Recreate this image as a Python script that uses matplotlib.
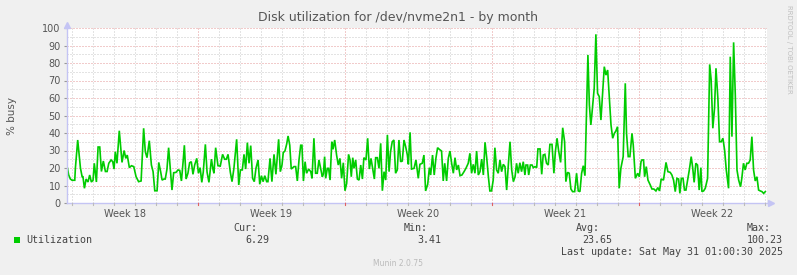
import matplotlib
matplotlib.use('Agg')
import matplotlib.pyplot as plt

# time in days relative to Monday start of Week 19, utilization in %
t_days = [
    -6.22, -6.16, -6.08, -6.00, -5.87, -5.84, -5.73, -5.60, -5.52, -5.48, -5.41, -5.33, -5.24, -5.16,
    -5.08, -5.00, -4.94, -4.84, -4.76, -4.68, -4.60, -4.51, -4.41, -4.33, -4.25, -4.14, -4.06, -4.00,
    -3.94, -3.86, -3.75, -3.62, -3.52, -3.44, -3.37, -3.27, -3.17, -3.06, -2.95, -2.83, -2.71, -2.59,
    -2.51, -2.43, -2.32, -2.22, -2.14, -2.06, -1.95, -1.87, -1.78, -1.71, -1.62, -1.56, -1.48, -1.40,
    -1.32, -1.24, -1.16, -1.05,
    -0.95, -0.87, -0.79, -0.71, -0.65, -0.57, -0.48, -0.40, -0.32, -0.24, -0.16, -0.06, 0.02, 0.10,
    0.18, 0.25, 0.35, 0.43, 0.52, 0.64, 0.71, 0.76, 0.84, 0.95, 1.06, 1.17, 1.27, 1.35, 1.43, 1.54,
    1.62, 1.71, 1.84, 1.94, 2.02, 2.11, 2.19, 2.27, 2.35, 2.43, 2.51, 2.60, 2.68, 2.76, 2.86, 2.94,
    3.02, 3.10, 3.18, 3.27, 3.33, 3.43, 3.52, 3.62, 3.71, 3.84, 3.92, 4.00, 4.06, 4.14, 4.22, 4.29,
    4.37, 4.44,
    4.57, 4.65, 4.73, 4.81, 4.89, 4.95, 5.02, 5.10, 5.17, 5.27, 5.37, 5.43, 5.52, 5.60, 5.68, 5.76,
    5.84, 5.92, 5.97, 6.03, 6.08, 6.16, 6.22, 6.29, 6.37, 6.43, 6.51, 6.60, 6.68, 6.76, 6.84, 6.92,
    7.00, 7.08, 7.17, 7.24, 7.30, 7.37, 7.43, 7.51, 7.59, 7.67, 7.75, 7.83, 7.90, 8.00, 8.08, 8.16,
    8.24, 8.32, 8.40, 8.46, 8.54, 8.62, 8.70, 8.78, 8.86, 8.94, 9.02, 9.10, 9.17, 9.25, 9.33, 9.41,
    9.49, 9.57, 9.65, 9.73, 9.81, 9.89, 9.97, 10.02,
    10.10, 10.17, 10.29, 10.38, 10.49, 10.57, 10.68, 10.76, 10.84, 10.94, 11.02, 11.08, 11.17, 11.25,
    11.33, 11.41, 11.49, 11.60, 11.68, 11.75, 11.84, 11.92, 12.00, 12.08, 12.16, 12.24, 12.32, 12.40,
    12.48, 12.57, 12.67, 12.76, 12.87, 12.95, 13.03, 13.11, 13.19, 13.27, 13.35, 13.43, 13.51, 13.59,
    13.67, 13.75, 13.83, 13.90, 13.98, 14.06, 14.14, 14.22, 14.30, 14.38, 14.46, 14.54, 14.62, 14.70,
    14.78, 14.86, 14.94, 15.02, 15.10, 15.17, 15.25, 15.33, 15.41, 15.49, 15.57,
    15.62, 15.70, 15.75, 15.83, 15.91, 15.97, 16.05, 16.13, 16.19, 16.29, 16.37, 16.44, 16.52, 16.60,
    16.68, 16.76, 16.86, 16.95, 17.02, 17.10, 17.17, 17.27, 17.37, 17.46, 17.52, 17.60, 17.68, 17.76,
    17.84, 17.94, 18.03, 18.11, 18.19, 18.27, 18.35, 18.43, 18.51, 18.57, 18.64, 18.71, 18.76, 18.87,
    18.95, 19.03, 19.11, 19.19, 19.27, 19.35, 19.43, 19.51, 19.59, 19.67, 19.75, 19.83, 19.90, 19.98,
    20.06, 20.14, 20.25, 20.35, 20.41, 20.49, 20.57, 20.67, 20.73, 20.83, 20.94, 21.02, 21.10,
    21.14, 21.22, 21.27, 21.35, 21.43, 21.54, 21.62, 21.71, 21.81, 21.90, 21.98, 22.06, 22.17, 22.29,
    22.38, 22.49, 22.57, 22.65, 22.73, 22.81, 22.89, 22.95, 23.02, 23.10, 23.17, 23.24, 23.32, 23.40,
    23.49, 23.56, 23.63, 23.71, 23.79, 23.87, 23.95, 24.00, 24.08, 24.16, 24.27, 24.37, 24.44, 24.52,
    24.60, 24.67, 24.76, 24.84, 24.92, 25.00, 25.08, 25.16, 25.27, 25.35, 25.43, 25.51, 25.59, 25.67,
    25.75, 25.84, 25.90, 25.98, 26.06, 26.14, 26.22, 26.30, 26.38, 26.46, 26.54, 26.62, 26.70, 26.78,
    26.86, 26.94, 27.02,
]
util = [
    20, 16, 13.7, 13, 13, 20, 36, 20, 15, 15, 8.4, 13.7, 12, 16,
    12, 13, 22.7, 12, 32, 32, 18, 24, 18, 18, 22.7, 24.6, 23.6, 19.4,
    29.3, 22.7, 41.3, 23.2, 30, 25.5, 27.4, 20.2, 21.3, 20.8, 15, 12.2, 12.6, 42.7,
    29.3, 25.9, 35.6, 21.7, 17.9, 7, 7, 23.2, 17.9, 13.1, 13.7, 13.7, 19.2, 31.6,
    19.8, 7.4, 17.3, 17.5,
    18.9, 18.6, 12.6, 23.6, 33, 13.7, 17, 23, 23.6, 16.4, 21.7, 25.5, 17, 20.2,
    11.8, 17.7, 33.5, 17.7, 11.8, 25.1, 19.4, 17, 31.6, 21.3, 21.1, 27.8, 25, 25, 27.8, 17.5,
    12.2, 19.8, 36.4, 10.3, 18.9, 18.9, 27.8, 19.4, 34.5, 22.7, 32.8, 14.1, 12.2, 19.8, 24.6, 10.7,
    15.6, 12.2, 15.6, 12.2, 12.2, 25.5, 12.2, 27.8, 16.4, 36.4, 17.9, 21.7, 28.8, 29.7, 33.5, 38.3,
    33, 19.4,
    20.8, 20.8, 12.6, 24.6, 33, 33, 12.6, 23.6, 17, 19.4, 17.9, 14.1, 37, 17, 17, 24.6,
    19.8, 15, 16.4, 26.5, 14.1, 19.8, 19.8, 13.1, 35, 30.7, 36, 27.4, 21.7, 25.5, 14.1, 23,
    7, 11.2, 27.8, 24.6, 15, 25.9, 19.8, 24.6, 13.7, 13.1, 21.7, 13.7, 25.9, 24.6, 37, 19.4,
    25.5, 19.4, 13.7, 25.9, 25.9, 19.8, 34.1, 7, 17.9, 13.1, 38.9, 17.9, 29.3, 35, 36, 17,
    18.9, 36, 23.6, 24, 36, 32.2, 27.4, 22.1,
    40.4, 19.4, 19.8, 24.6, 14.1, 22.1, 22.7, 27.4, 6.9, 10.7, 20.2, 16, 27.4, 16,
    25.5, 31.6, 30.7, 29.7, 12.6, 22.7, 12.6, 25.5, 29.7, 22.7, 17, 25.9, 18.9, 21.7,
    15.6, 16, 17.9, 19.8, 22.7, 28.4, 17, 22.1, 17, 29.7, 16, 17.9, 25.1, 16,
    34.7, 25.9, 15, 6.9, 6.9, 13.1, 31.6, 18.9, 17, 24.6, 17.9, 22.1, 20.8, 7.4,
    21.7, 35, 18.9, 12.2, 15, 22.7, 17, 23, 17.9, 23.6, 16,
    21.7, 21.7, 16, 21.7, 21.7, 20.2, 20.8, 20.2, 30.9, 30.9, 16.4, 27.4, 27.8, 22.7,
    21.7, 33.5, 33.5, 17, 29.3, 37, 30.3, 23.2, 43, 35, 12.2, 17.5, 17, 8,
    6.5, 6.5, 17, 6.9, 6.5, 17, 21.3, 15.6, 56, 84.6, 56, 44.6, 50.7, 65.5,
    96.4, 62.7, 60.8, 47.4, 62.7, 77.9, 73.1, 76, 59.8, 44.6, 37, 39.8, 41.1, 43.6,
    8.4, 19.8, 26.5, 68.4, 39.8, 26.5, 26.5, 39.8, 33.1, 14.1, 17, 15, 23.6,
    24.6, 24.6, 15, 20.8, 13.1, 10.3, 8, 8, 6.9, 8.8, 6.9, 13.7, 13.1, 23.2,
    17.9, 17.5, 16, 13.1, 6.5, 14.1, 13.7, 5.5, 14.1, 14.1, 7.4, 7.4, 13.1, 18.9,
    26.5, 20.2, 11.8, 22.7, 21.7, 7.4, 20.2, 6.5, 6.9, 8.4, 14.1, 79.2, 70.3, 42.7,
    54.1, 77, 59.8, 35, 35, 37, 30.3, 18.9, 8.4, 83.6, 37.9, 91.8, 61.7, 18.9,
    13.1, 9.3, 14.1, 22.7, 18.9, 22.7, 22.7, 24.6, 37.9, 18.9, 12.6, 15, 7.4, 6.9,
    6.5, 5.5, 6.5,
]

week_labels = ['Week 18', 'Week 19', 'Week 20', 'Week 21', 'Week 22']
week_label_days = [-3.5, 3.5, 10.5, 17.5, 24.5]
y_ticks = [0, 10, 20, 30, 40, 50, 60, 70, 80, 90, 100]

stat_names = ['Cur:', 'Min:', 'Avg:', 'Max:']
stat_values = ['6.29', '3.41', '23.65', '100.23']

W, H = 797, 275
BG = '#F0F0F0'
TXT = '#555555'
LEG = '#444444'
MAJ = '#e49898'
MIN = '#c8c8c8'
AXC = '#c4c4f4'

fig = plt.figure(figsize=(W / 100, H / 100), dpi=100, facecolor=BG)
ax = fig.add_axes([67 / W, 72 / H, 700 / W, 175 / H])
ax.set_facecolor('white')
x0, x1 = -6.24, 27.10
ax.set_xlim(x0, x1)
ax.set_ylim(0, 100)

# grid
for y in range(5, 101, 5):
    ax.axhline(y, color=MAJ if y % 10 == 0 else MIN, lw=0.72, ls=(0, (1, 2)), zorder=1)
for d in range(-6, 28):
    ax.axvline(d, color=MAJ if d % 7 == 0 else MIN, lw=0.72, ls=(0, (1, 2)), zorder=1)

ax.plot(t_days, util, color='#00CC00', lw=1.2, zorder=3, solid_joinstyle='miter')

for s in ax.spines.values():
    s.set_visible(False)
# axis lines with arrows
ax.plot([0, 0], [0, 1.0], transform=ax.transAxes, color=AXC, lw=1, clip_on=False, zorder=4)
ax.plot([0, 1.005], [0, 0], transform=ax.transAxes, color=AXC, lw=1, clip_on=False, zorder=4)
ax.plot([0], [1.02], marker='^', ms=4, color=AXC, transform=ax.transAxes, clip_on=False, zorder=4)
ax.plot([1.006], [0], marker='>', ms=4, color=AXC, transform=ax.transAxes, clip_on=False, zorder=4)

ax.set_yticks(y_ticks)
ax.set_yticklabels([str(v) for v in y_ticks])
ax.tick_params(axis='y', length=2.5, width=0.8, color='#999999', pad=2, labelsize=7, labelcolor=TXT)
ax.set_xticks(week_label_days)
ax.set_xticklabels(week_labels)
ax.tick_params(axis='x', length=0, pad=4, labelsize=7, labelcolor=TXT)
for d in range(-6, 28):
    ax.plot([d, d], [0, -0.012], transform=ax.get_xaxis_transform(),
            color='#e06060' if d % 7 == 0 else '#bbbbbb', lw=0.8, clip_on=False, zorder=4)

fig.text(12 / W, 1 - 116 / H, '% busy', rotation=90, ha='center', va='center',
         color=TXT, fontsize=7.5)

fig.text(398 / W, 1 - 18 / H, 'Disk utilization for /dev/nvme2n1 - by month',
         ha='center', va='center', fontsize=9, color=TXT)
fig.text(789 / W, 1 - 5 / H, 'RRDTOOL / TOBI OETIKER', rotation=270, ha='center', va='top',
         fontsize=5, color='#c0c0c0')

mono = 'DejaVu Sans Mono'
fs = 7.2
fig.patches.append(plt.Rectangle((14 / W, 1 - 243 / H), 6 / W, 6 / H, transform=fig.transFigure,
                                 facecolor='#00CC00', edgecolor='none'))
fig.text(26 / W, 1 - 240 / H, 'Utilization', family=mono, fontsize=fs, color=LEG, va='center')
name_right = [257, 428, 600, 771]
val_right = [269, 441, 612, 783]
for n, v, xn, xv in zip(stat_names, stat_values, name_right, val_right):
    fig.text(xn / W, 1 - 228 / H, n, family=mono, fontsize=fs, color=LEG, ha='right', va='center')
    fig.text(xv / W, 1 - 240 / H, v, family=mono, fontsize=fs, color=LEG, ha='right', va='center')
fig.text(783 / W, 1 - 252 / H, 'Last update: Sat May 31 01:00:30 2025', family=mono, fontsize=fs,
         color=LEG, ha='right', va='center')
fig.text(398 / W, 1 - 264 / H, 'Munin 2.0.75', fontsize=5.5, color='#bbbbbb', ha='center', va='center')

fig.savefig('out.png', dpi=100, facecolor=BG)
